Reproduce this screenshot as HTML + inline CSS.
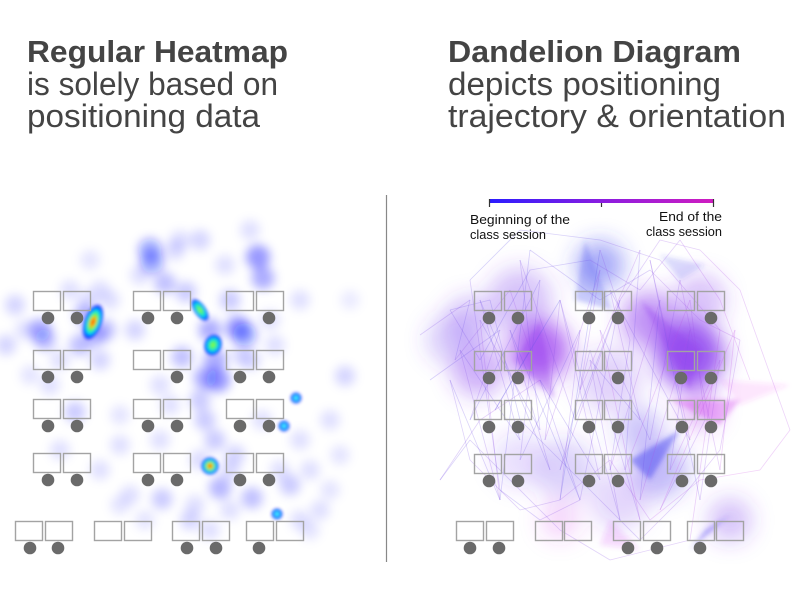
<!DOCTYPE html>
<html><head><meta charset="utf-8">
<style>
html,body{margin:0;padding:0;background:#fff;}
svg{display:block;}
text{font-family:"Liberation Sans",sans-serif;fill:#444;}
</style></head>
<body>
<svg id="fig" width="800" height="600" viewBox="0 0 800 600">
<defs>
  <filter id="blurL" x="-20%" y="-20%" width="140%" height="140%"><feGaussianBlur stdDeviation="5"/></filter>
  <filter id="blurR" x="-20%" y="-20%" width="140%" height="140%"><feGaussianBlur stdDeviation="11"/></filter>
  <filter id="blurT" x="-20%" y="-20%" width="140%" height="140%"><feGaussianBlur stdDeviation="2.5"/></filter>
  <filter id="blurS" x="-20%" y="-20%" width="140%" height="140%"><feGaussianBlur stdDeviation="1.5"/></filter>
  <radialGradient id="hot"><stop offset="0" stop-color="#ff1a00"/><stop offset="0.25" stop-color="#ffc000"/><stop offset="0.45" stop-color="#40ff60"/><stop offset="0.65" stop-color="#00d8ff"/><stop offset="0.85" stop-color="#0010ff"/><stop offset="1" stop-color="#0010ff" stop-opacity="0"/></radialGradient>
  <radialGradient id="green"><stop offset="0" stop-color="#b0ff30"/><stop offset="0.35" stop-color="#30f080"/><stop offset="0.6" stop-color="#00d8ff"/><stop offset="0.85" stop-color="#0010ff"/><stop offset="1" stop-color="#0010ff" stop-opacity="0"/></radialGradient>
  <radialGradient id="cyan"><stop offset="0" stop-color="#a0ffff"/><stop offset="0.35" stop-color="#00e0ff"/><stop offset="0.7" stop-color="#0010ff"/><stop offset="1" stop-color="#0010ff" stop-opacity="0"/></radialGradient>
  <linearGradient id="cbar" x1="0" x2="1"><stop offset="0" stop-color="#2a1cff"/><stop offset="0.5" stop-color="#8a1ce0"/><stop offset="1" stop-color="#d01cc0"/></linearGradient>
</defs>

<g>
  <text x="27" y="62" font-size="31" font-weight="bold" textLength="261" lengthAdjust="spacingAndGlyphs">Regular Heatmap</text>
  <text x="27" y="95" font-size="32" textLength="251" lengthAdjust="spacingAndGlyphs">is solely based on</text>
  <text x="27" y="127" font-size="32" textLength="233" lengthAdjust="spacingAndGlyphs">positioning data</text>
</g>
<g>
  <text x="448" y="62" font-size="31" font-weight="bold" textLength="293" lengthAdjust="spacingAndGlyphs">Dandelion Diagram</text>
  <text x="448" y="95" font-size="32" textLength="273" lengthAdjust="spacingAndGlyphs">depicts positioning</text>
  <text x="448" y="127" font-size="32" textLength="338" lengthAdjust="spacingAndGlyphs">trajectory &amp; orientation</text>
</g>

<line x1="386.5" y1="195" x2="386.5" y2="562" stroke="#888" stroke-width="1.2"/>

<g id="heat"><g id="heatBlur" filter="url(#blurL)"></g><g id="heatHot" filter="url(#blurS)"></g></g>
<g id="dand"><g id="dandBlur" filter="url(#blurR)"></g><g id="dandTri" filter="url(#blurT)"></g><g id="dandLines"></g></g>
<g id="deskL"></g>
<g id="deskR"></g>

<g>
  <rect x="489" y="199" width="225" height="4" fill="url(#cbar)"/>
  <line x1="489.5" y1="199" x2="489.5" y2="207" stroke="#333" stroke-width="1.2"/>
  <line x1="601.5" y1="203" x2="601.5" y2="207" stroke="#333" stroke-width="1.2"/>
  <line x1="713.5" y1="199" x2="713.5" y2="207" stroke="#333" stroke-width="1.2"/>
  <text x="470" y="224" font-size="13" style="fill:#111" textLength="100" lengthAdjust="spacingAndGlyphs">Beginning of the</text>
  <text x="470" y="239" font-size="13" style="fill:#111" textLength="76" lengthAdjust="spacingAndGlyphs">class session</text>
  <text x="722" y="221" font-size="13" style="fill:#111" text-anchor="end" textLength="63" lengthAdjust="spacingAndGlyphs">End of the</text>
  <text x="722" y="236" font-size="13" style="fill:#111" text-anchor="end" textLength="76" lengthAdjust="spacingAndGlyphs">class session</text>
</g>
</svg>
<script>
const NS='http://www.w3.org/2000/svg';
// ---- classroom layout data ----
const leftDesks=[[33,291],[63,291],[133,291],[163,291],[226,291],[256,291],
 [33,350],[63,350],[133,350],[163,350],[226,350],[256,350],
 [33,399],[63,399],[133,399],[163,399],[226,399],[256,399],
 [33,453],[63,453],[133,453],[163,453],[226,453],[256,453],
 [15,521],[45,521],[94,521],[124,521],[172,521],[202,521],[246,521],[276,521]];
const leftStudents=[[48,318],[77,318],[148,318],[177,318],[269,318],
 [48,377],[77,377],[177,377],[240,377],[269,377],
 [48,426],[77,426],[148,426],[177,426],[240,426],[269,426],
 [48,480],[77,480],[148,480],[177,480],[240,480],[269,480],
 [30,548],[58,548],[187,548],[216,548],[259,548]];
const rightDesks=[[474,291],[504,291],[575,291],[604,291],[667,291],[697,291],
 [474,351],[504,351],[575,351],[604,351],[667,351],[697,351],
 [474,400],[504,400],[575,400],[604,400],[667,400],[697,400],
 [474,454],[504,454],[575,454],[604,454],[667,454],[697,454],
 [456,521],[486,521],[535,521],[564,521],[613,521],[643,521],[687,521],[716,521]];
const rightStudents=[[489,318],[518,318],[589,318],[618,318],[711,318],
 [489,378],[518,378],[618,378],[681,378],[711,378],
 [489,427],[518,427],[589,427],[618,427],[682,427],[711,427],
 [489,481],[518,481],[589,481],[618,481],[682,481],[711,481],
 [470,548],[499,548],[628,548],[657,548],[700,548]];
// ---- heatmap density samples: x, y, weight ----
const heatX=[150,152,258,263,165,40,45,238,245,218,205,182,230,200,215,220,252,162,290,75,105,80,6,345,135,100,205,190,300,320,200,186,250,270,300,15,50,100,60,120,235,130,230,262,300,310,330,100,90,110,175,140,60,25,120,280,340,310,200,230,160,170,145,210,195,240,275,120,88,70,30,330,350,250,180,225,160,85,95,210,215];
const heatY=[250,262,257,278,283,330,340,328,335,380,378,357,300,400,440,488,498,499,485,412,330,345,345,376,330,360,420,520,520,510,240,292,360,320,300,305,385,470,450,445,455,495,510,420,440,470,420,290,260,300,250,275,360,330,415,470,455,530,460,470,440,405,520,530,505,355,345,505,300,290,375,490,300,230,240,265,385,315,335,330,360];
const heatW=[.9,.9,1,.8,.6,.8,.6,1,.9,1,.8,.6,.5,.5,.5,.7,.6,.5,.5,.5,.6,.6,.4,.4,.4,.4,.5,.4,.3,.3,.4,.5,.4,.3,.3,.4,.3,.3,.3,.3,.4,.3,.3,.3,.3,.3,.3,.3,.25,.3,.35,.3,.3,.3,.25,.3,.25,.25,.35,.35,.3,.3,.25,.3,.3,.3,.3,.25,.3,.3,.25,.25,.2,.3,.3,.3,.3,.7,.7,.8,.8];
// hot spots: x, y, rx, ry, rotation, level(0 cyan,1 green,2 hot)
const hotX=[93,200,213,210,296,284,277];
const hotY=[322,310,345,466,398,426,514];
const hotRX=[9,6,9,9,6,6,6];
const hotRY=[19,13,11,9,6,6,6];
const hotRot=[20,-35,20,0,0,0,0];
const hotLevel=[2,1,1,2,0,0,0];
// ---- dandelion glyph data ----
const blobX=[478,540,690,600,650,520,470,565,610,700,660,450,730,560,640,700,520,620];
const blobY=[370,350,355,265,320,300,320,470,380,300,470,340,520,520,430,410,460,500];
const blobR=[26,30,34,24,28,32,24,30,32,26,28,24,22,20,22,20,28,30];
const blobTone=[.4,.75,.85,.45,.55,.3,.3,.22,.22,.3,.35,.25,.3,.2,.3,.35,.15,.2];
const blobHue=[265,272,266,238,268,262,260,255,262,265,250,258,262,290,250,280,258,262];
const triPts=[
 [[585,240],[612,310],[575,300]],[[540,320],[555,400],[515,360]],[[640,300],[700,350],[690,390]],
 [[670,400],[740,400],[720,425]],[[680,430],[650,480],[630,460]],[[730,515],[690,550],[705,530]],
 [[660,255],[705,265],[680,280]],[[720,380],[790,385],[740,405]],[[610,520],[640,550],[600,545]]];
const triHue=[235,270,268,290,240,245,240,300,290];
const triOp=[.25,.35,.35,.35,.45,.4,.18,.12,.15];
const pathX=[420,470,455,510,530,495,560,545,600,580,640,625,690,705,660,735,720,680,650,600,640,590,560,620,575,520,540,480,500,450,470,520,560,610,650,700,760,790,740,700,660,620,580,540,500,470,520,600,660,720,690,610,560,470,440,480,540];
const pathY=[335,300,360,290,350,410,300,440,270,390,250,470,300,420,510,330,470,280,440,330,520,350,470,300,420,260,430,320,500,380,460,510,500,460,520,480,470,430,290,250,240,300,500,520,490,280,230,240,260,330,540,560,530,440,480,420,380];
const pathHue=[250,260,250,265,270,255,240,260,270,265,275,250,280,270,265,290,285,270,260,255,280,260,255,265,250,260,255,250,270,250,255,265,260,270,275,280,290,285,280,275,270,265,255,260,250,255,245,250,260,270,280,265,260,255,250,260,270];
const path2X=[430,500,470,540,520,580,560,600,630,610,660,640,690,670,720,700,650,690,610,640,590,620,560,600,540,580,510,550,480,520,460,500,530,600,650,700,740,720,680,640,600,560,520,490,450,480,530,590,640,680,720,750];
const path2Y=[380,330,420,280,460,330,500,250,340,470,300,500,330,470,360,500,260,440,290,420,360,520,300,480,380,500,330,470,300,440,350,500,250,300,270,320,340,450,500,540,500,460,420,300,310,360,270,260,290,240,300,380];
const path2Hue=[255,250,260,245,255,250,260,240,265,255,270,250,275,260,280,265,250,270,255,265,250,260,255,260,250,255,245,255,250,255,250,260,245,250,255,265,275,270,265,260,255,250,250,245,250,255,245,250,260,265,275,285];

function el(tag,attrs,parent){const e=document.createElementNS(NS,tag);for(const k in attrs)e.setAttribute(k,attrs[k]);parent.appendChild(e);return e;}

// heatmap blobs
const hb=document.getElementById('heatBlur');
for(let i=0;i<heatX.length;i++){
  const c=el('circle',{cx:heatX[i],cy:heatY[i],r:9+heatW[i]*3,fill:'#0a10ff','fill-opacity':Math.min(0.75,heatW[i]*0.4)},hb);
  
  
}
const hh=document.getElementById('heatHot');
const grads=['cyan','green','hot'];
for(let i=0;i<hotX.length;i++){
  const e=el('ellipse',{cx:hotX[i],cy:hotY[i],rx:hotRX[i],ry:hotRY[i],fill:'url(#'+grads[hotLevel[i]]+')',transform:'rotate('+hotRot[i]+' '+hotX[i]+' '+hotY[i]+')'},hh);
  
  
}
// dandelion
const db=document.getElementById('dandBlur');
for(let i=0;i<blobX.length;i++){
  const c=el('circle',{cx:blobX[i],cy:blobY[i],r:blobR[i],fill:'hsl('+blobHue[i]+',85%,58%)','fill-opacity':blobTone[i]},db);
  
  
}
const dt=document.getElementById('dandTri');
for(let i=0;i<triPts.length;i++){
  const p=el('polygon',{points:triPts[i].map(q=>q.join(',')).join(' '),fill:'hsl('+triHue[i]+',85%,58%)','fill-opacity':triOp[i]},dt);
  
  
}
const dl=document.getElementById('dandLines');
function drawPath(xs,ys,hs){
  for(let i=1;i<xs.length;i++){
    const l=el('line',{x1:xs[i-1],y1:ys[i-1],x2:xs[i],y2:ys[i],stroke:'hsl('+hs[i]+',75%,62%)','stroke-opacity':0.25,'stroke-width':0.8},dl);
    
    
  }
}
drawPath(pathX,pathY,pathHue);
drawPath(path2X,path2Y,path2Hue);
// desks
function drawLayout(id,desks,students){
  const g=document.getElementById(id);
  desks.forEach(d=>{
    const r=el('rect',{x:d[0]+0.5,y:d[1]+0.5,width:27,height:19,fill:'none',stroke:'#a3a3a3','stroke-width':1.4},g);
    
    
  });
  students.forEach(s=>{
    const c=el('circle',{cx:s[0],cy:s[1],r:6.3,fill:'#6a6a6a'},g);
    
    
  });
}
drawLayout('deskL',leftDesks,leftStudents);
drawLayout('deskR',rightDesks,rightStudents);
</script>
</body></html>
